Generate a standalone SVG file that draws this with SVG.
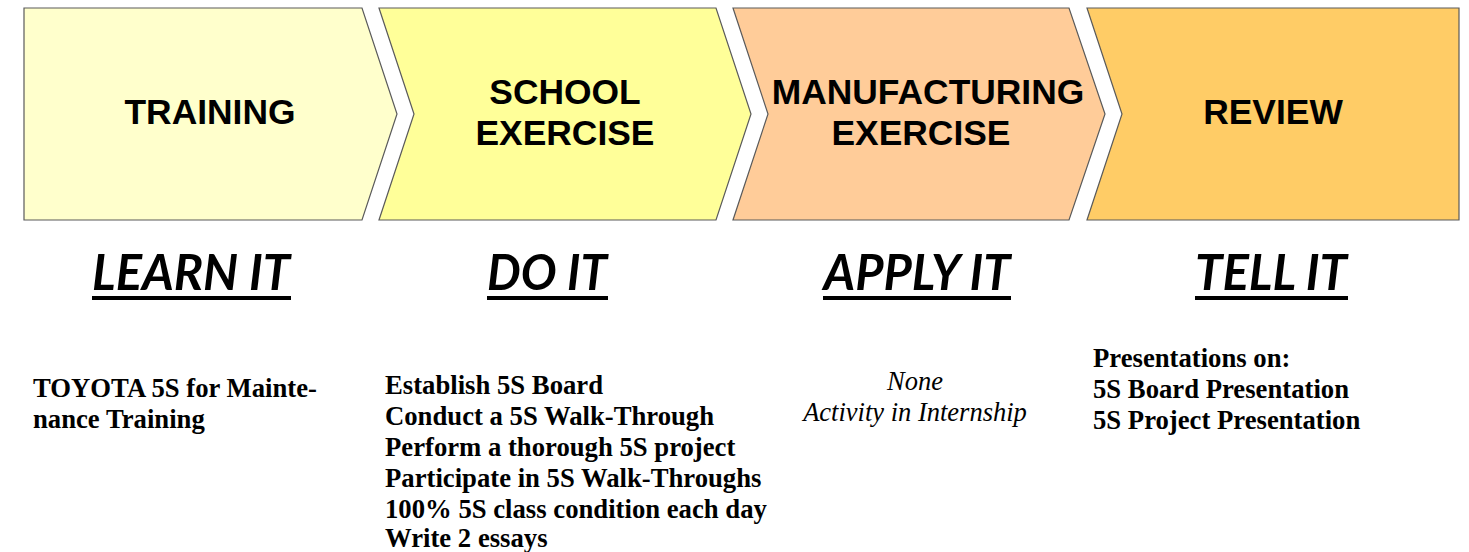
<svg xmlns="http://www.w3.org/2000/svg" width="1469" height="552" viewBox="0 0 1469 552">
<style>
.shape{stroke:#5a5a5a;stroke-width:1.2}
.title{font-family:"Liberation Sans",Arial,sans-serif;font-weight:bold;font-size:35.4px;fill:#000;text-anchor:middle}
.head{font-family:Lato,"Liberation Sans",sans-serif;font-weight:bold;font-style:italic;font-size:50px;fill:#000;text-anchor:middle}
.body{font-family:"Liberation Serif","Times New Roman",serif;font-weight:bold;font-size:26.7px;fill:#000}
.ital{font-family:"Liberation Serif","Times New Roman",serif;font-style:italic;font-size:26.5px;fill:#000;text-anchor:middle}
.ul{fill:#000}
</style>
<rect width="1469" height="552" fill="#fff"/>
<g id="training">
<path class="shape" fill="#FFFFCC" d="M24,8 L362,8 L397,114 L362,220 L24,220 Z"/>
<text class="title" x="210" y="124">TRAINING</text>
</g>
<g id="school-exercise">
<path class="shape" fill="#FFFF99" d="M379,8 L716,8 L751,114 L716,220 L379,220 L414,114 Z"/>
<text class="title" x="565" y="104">SCHOOL</text>
<text class="title" x="565" y="145">EXERCISE</text>
</g>
<g id="manufacturing-exercise">
<path class="shape" fill="#FFCC99" d="M733,8 L1069,8 L1105,114 L1069,220 L733,220 L768,114 Z"/>
<text class="title" x="928" y="104">MANUFACTURING</text>
<text class="title" x="921" y="145">EXERCISE</text>
</g>
<g id="review">
<path class="shape" fill="#FFCC66" d="M1087,8 L1459,8 L1459,220 L1087,220 L1122,114 Z"/>
<text class="title" x="1273" y="124">REVIEW</text>
</g>
<g id="learn-it">
<text class="head" x="191" y="290" textLength="198" lengthAdjust="spacingAndGlyphs">LEARN IT</text>
<rect class="ul" x="92" y="296" width="199" height="4"/>
<text class="body" x="33" y="397">TOYOTA 5S for Mainte-</text>
<text class="body" x="33" y="428">nance Training</text>
</g>
<g id="do-it">
<text class="head" x="547" y="290" textLength="120" lengthAdjust="spacingAndGlyphs">DO IT</text>
<rect class="ul" x="487" y="296" width="121" height="4"/>
<text class="body" x="385" y="394">Establish 5S Board</text>
<text class="body" x="385" y="425">Conduct a 5S Walk-Through</text>
<text class="body" x="385" y="456">Perform a thorough 5S project</text>
<text class="body" x="385" y="487">Participate in 5S Walk-Throughs</text>
<text class="body" x="385" y="518">100% 5S class condition each day</text>
<text class="body" x="385" y="547">Write 2 essays</text>
</g>
<g id="apply-it">
<text class="head" x="917" y="290" textLength="187" lengthAdjust="spacingAndGlyphs">APPLY IT</text>
<rect class="ul" x="823" y="296" width="188" height="4"/>
<text class="ital" x="915" y="390">None</text>
<text class="ital" x="915" y="421">Activity in Internship</text>
</g>
<g id="tell-it">
<text class="head" x="1271" y="290" textLength="152" lengthAdjust="spacingAndGlyphs">TELL IT</text>
<rect class="ul" x="1195" y="296" width="153" height="4"/>
<text class="body" x="1093" y="367">Presentations on:</text>
<text class="body" x="1093" y="398">5S Board Presentation</text>
<text class="body" x="1093" y="429">5S Project Presentation</text>
</g>
<g id="connectors"/>
</svg>
